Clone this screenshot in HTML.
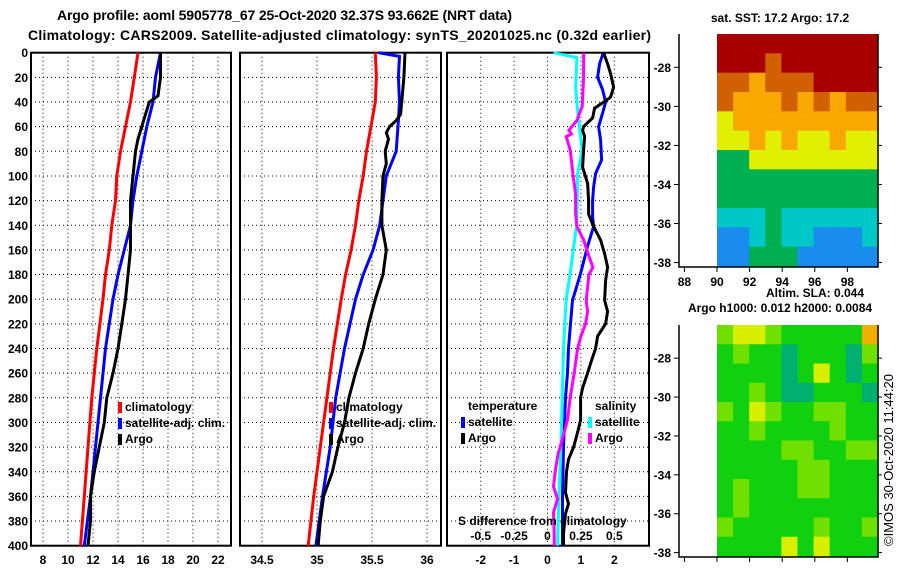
<!DOCTYPE html>
<html><head><meta charset="utf-8"><style>
html,body{margin:0;padding:0;background:#fff;}
svg{display:block;font-family:"Liberation Sans",sans-serif;font-weight:bold;}
</style></head><body>
<svg id="c" width="900" height="580" viewBox="0 0 900 580" xmlns="http://www.w3.org/2000/svg">
<text x="57" y="20" font-size="14" textLength="455">Argo profile: aoml 5905778_67 25-Oct-2020 32.37S 93.662E (NRT data)</text>
<text x="28" y="40" font-size="14" textLength="623">Climatology: CARS2009. Satellite-adjusted climatology: synTS_20201025.nc (0.32d earlier)</text>
<g id="g"></g>
</svg>
<script>
// ---------- data ----------
const depthTicks=[0,20,40,60,80,100,120,140,160,180,200,220,240,260,280,300,320,340,360,380,400];
const tTicks=[8,10,12,14,16,18,20,22];
const sTicks=[34.5,35,35.5,36];
const dTTicks=[-2,-1,0,1,2];
const dSTicks=[-0.5,-0.25,0,0.25,0.5];
// panel 1 temperature
const tClimD=[0,20,40,60,80,100,120,140,160,180,200,240,280,320,360,400];
const tClimV=[15.6,15.3,15.0,14.6,14.2,13.9,13.8,13.5,13.3,13.0,12.8,12.3,11.9,11.6,11.3,11.0];
const tSatD=[0,20,40,60,80,100,120,140,160,180,200,240,280,320,360,400];
const tSatV=[17.4,17.0,16.8,16.3,15.9,15.5,15.2,15.0,14.5,14.0,13.6,13.0,12.6,12.2,11.8,11.3];
const tArgoD=[0,20,35,40,50,60,70,80,100,120,140,160,180,200,220,240,260,280,300,320,340,360,380,400];
const tArgoV=[17.4,17.4,17.2,16.5,16.2,15.9,15.6,15.4,15.2,15.0,15.0,15.0,14.8,14.6,14.3,14.0,13.6,13.1,12.9,12.5,12.1,11.8,11.8,11.6];
// panel 2 salinity
const sClimD=[0,20,40,60,80,100,120,140,160,180,200,240,280,320,360,400];
const sClimV=[35.53,35.54,35.53,35.49,35.45,35.42,35.38,35.35,35.31,35.26,35.22,35.15,35.09,35.03,34.97,34.92];
const sSatD=[0,3,20,40,55,80,100,120,140,160,180,200,240,280,320,360,400];
const sSatV=[35.56,35.75,35.74,35.75,35.74,35.72,35.63,35.60,35.57,35.51,35.42,35.35,35.25,35.17,35.12,35.05,34.99];
const sArgoD=[0,20,40,50,55,60,65,70,80,90,100,120,140,150,160,180,200,220,240,260,280,300,320,340,360,380,400];
const sArgoV=[35.80,35.79,35.77,35.76,35.72,35.66,35.63,35.65,35.62,35.63,35.60,35.59,35.59,35.61,35.63,35.60,35.53,35.47,35.42,35.35,35.29,35.25,35.19,35.14,35.06,35.03,35.01];
// panel 3 differences from climatology
const dTSatD=[0,9,20,30,40,49,60,71,87,98,109,120,133,141,157,179,201,220,240,260,280,320,360,400];
const dTSatV=[1.67,1.56,1.50,1.65,1.74,1.65,1.53,1.59,1.62,1.44,1.38,1.35,1.35,1.38,1.20,0.99,0.75,0.69,0.63,0.60,0.54,0.48,0.45,0.45];
const dTArgoD=[0,9,17,28,36,39,45,53,60,63,68,79,93,98,106,120,131,141,152,163,174,185,201,210,220,230,240,252,260,272,280,298,308,320,330,340,357,366,374,390,400];
const dTArgoV=[1.68,1.80,1.89,1.98,1.89,1.74,1.41,1.35,1.08,1.05,1.11,1.08,1.05,1.11,1.20,1.23,1.23,1.38,1.59,1.71,1.80,1.74,1.71,1.80,1.74,1.50,1.44,1.29,1.20,1.05,0.99,0.99,0.90,0.78,0.63,0.57,0.54,0.63,0.54,0.48,0.48];
const dSSatD=[0,4,28,52,79,98,138,179,200,240,280,320,360,400];
const dSSatV=[0.045,0.22,0.21,0.23,0.26,0.225,0.22,0.17,0.14,0.12,0.11,0.10,0.085,0.075];
const dSArgoD=[0,20,44,46,55,63,66,68,79,98,115,130,141,152,165,174,180,201,210,220,230,240,260,280,298,314,325,338,352,362,373,390,400];
const dSArgoV=[0.27,0.27,0.26,0.25,0.22,0.16,0.18,0.14,0.17,0.19,0.21,0.21,0.22,0.27,0.31,0.34,0.31,0.29,0.30,0.285,0.25,0.225,0.20,0.17,0.15,0.11,0.08,0.06,0.045,0.075,0.045,0.05,0.05];
// maps
const latTicks=[-28,-30,-32,-34,-36,-38];
const lonTicks=[88,90,92,94,96,98];
const sstGrid=[
[6,6,6,6,6,6,6,6,6,6],[6,6,6,5,6,6,6,6,6,6],[5,5,4,5,5,5,6,6,6,6],[5,4,4,4,5,4,5,4,5,5],
[3,4,4,4,4,4,4,4,4,4],[3,3,4,3,4,3,3,4,3,3],[2,2,3,3,3,3,3,3,3,3],[2,2,2,2,2,2,2,2,2,2],
[2,2,2,2,2,2,2,2,2,2],[1,1,1,2,1,1,1,1,1,1],[0,0,1,2,1,1,0,0,0,1],[0,0,2,2,2,0,0,0,0,0]];
const slaGrid=[
[2,3,3,2,1,1,1,1,1,4],[1,2,1,1,0,1,1,1,0,2],[1,1,1,1,0,1,3,1,0,1],[1,1,2,1,0,0,1,1,1,0],
[2,1,3,2,1,1,2,2,1,1],[1,1,2,1,1,1,1,2,1,1],[1,1,1,1,2,2,1,1,2,2],[1,1,1,1,1,2,2,1,1,1],
[1,2,1,1,1,2,2,1,1,1],[1,2,1,1,1,1,1,1,1,1],[2,1,1,1,1,1,2,1,1,2],[1,1,1,1,3,1,3,1,1,1]];
const sstColors=['#1a8cf0','#00c8c8','#00b050','#e0f000','#f8a800','#d06000','#a80000'];
const slaColors=['#00b070','#10d010','#70e000','#d8f000','#f0b000'];

// ---------- helpers ----------
const NS='http://www.w3.org/2000/svg';
const G=document.getElementById('g');
function el(tag,attrs,parent){const e=document.createElementNS(NS,tag);for(const k in attrs)e.setAttribute(k,attrs[k]);(parent||G).appendChild(e);return e;}
const Y0=52.7,YS=1.2325;
const yD=d=>Y0+d*YS;
const xT=v=>43+(v-8)*12.5;
const xS=v=>317+(v-35)*110;
const xDT=v=>547.5+v*33.4;
const xDS=v=>547.5+v*133.6;

function panel(name,x0,x1,gridXs){
  const g=el('g',{});
  
  
  depthTicks.forEach(d=>{const l=el('line',{x1:x0,x2:x1,y1:yD(d),y2:yD(d),stroke:'#000','stroke-width':1,'stroke-dasharray':'1,3'},g);
    });
  gridXs.forEach(x=>{const l=el('line',{x1:x,x2:x,y1:Y0,y2:yD(400),stroke:'#000','stroke-width':1,'stroke-dasharray':'1,3'},g);
    });
  const r=el('rect',{x:x0,y:Y0,width:x1-x0,height:yD(400)-Y0,fill:'none',stroke:'#000','stroke-width':2},g);
  
  return g;
}
function series(g,name,ds,vs,xf,color,w){
  const pts=ds.map((d,i)=>xf(vs[i]).toFixed(1)+','+yD(d).toFixed(1)).join(' ');
  const p=el('polyline',{points:pts,fill:'none',stroke:color,'stroke-width':w||3,'stroke-linejoin':'miter'},g);
  
  
}
function text(g,name,x,y,s,opts){
  const t=el('text',Object.assign({x:x,y:y,'font-size':12},opts||{}),g);t.textContent=s;
  
  
  return t;
}
function legendEntry(g,name,x,y,color,label){
  const r=el('rect',{x:x,y:y-9,width:4,height:11,fill:color},g);
  
  text(g,name,x+7,y,label);
}

// y-axis labels
const ya=el('g',{});


depthTicks.forEach(d=>text(ya,'y-tick-label',28,yD(d)+4.5,String(d),{'text-anchor':'end'}));

// panel 1
const p1=panel('temperature-panel',31,231,tTicks.map(xT));
series(p1,'temp-climatology-line',tClimD,tClimV,xT,'#ff0000');
series(p1,'temp-satellite-adj-line',tSatD,tSatV,xT,'#0000ff');
series(p1,'temp-argo-line',tArgoD,tArgoV,xT,'#000000');
tTicks.forEach(v=>text(p1,'x-tick-label',xT(v),564,String(v),{'text-anchor':'middle'}));
legendEntry(p1,'legend-climatology',118,411,'#ff0000','climatology');
legendEntry(p1,'legend-satellite-adj',118,427,'#0000ff','satellite-adj. clim.');
legendEntry(p1,'legend-argo',118,443,'#000000','Argo');

// panel 2
const p2=panel('salinity-panel',240,441,sTicks.map(xS));
series(p2,'sal-climatology-line',sClimD,sClimV,xS,'#ff0000');
series(p2,'sal-satellite-adj-line',sSatD,sSatV,xS,'#0000ff');
series(p2,'sal-argo-line',sArgoD,sArgoV,xS,'#000000');
sTicks.forEach(v=>text(p2,'x-tick-label',xS(v),564,String(v),{'text-anchor':'middle'}));
legendEntry(p2,'legend-climatology',329,411,'#ff0000','climatology');
legendEntry(p2,'legend-satellite-adj',329,427,'#0000ff','satellite-adj. clim.');
legendEntry(p2,'legend-argo',329,443,'#000000','Argo');

// panel 3
const p3=panel('difference-panel',447,649,dTTicks.map(xDT));
series(p3,'dT-satellite-line',dTSatD,dTSatV,xDT,'#0000ff');
series(p3,'dS-satellite-line',dSSatD,dSSatV,xDS,'#00ffff');
series(p3,'dS-argo-line',dSArgoD,dSArgoV,xDS,'#ff00ff');
series(p3,'dT-argo-line',dTArgoD,dTArgoV,xDT,'#000000');
dTTicks.forEach(v=>text(p3,'x-tick-label',xDT(v),564,String(v),{'text-anchor':'middle'}));
dSTicks.forEach(v=>text(p3,'s-tick-label',xDS(v),540,String(v),{'text-anchor':'middle'}));
text(p3,'s-axis-title',458,525,'S difference from climatology');
text(p3,'legend-title-temperature',468,410,'temperature');
text(p3,'legend-title-salinity',595,410,'salinity');
legendEntry(p3,'legend-temp-satellite',461,426,'#0000ff','satellite');
legendEntry(p3,'legend-temp-argo',461,442,'#000000','Argo');
legendEntry(p3,'legend-sal-satellite',588,426,'#00ffff','satellite');
legendEntry(p3,'legend-sal-argo',588,442,'#ff00ff','Argo');

// maps
function map(name,top,bottom,grid,colors,lonLabels){
  const g=el('g',{});
  
  
  const L=679,R=878,DL=717;
  const rows=grid.length,cols=grid[0].length;
  const cw=(R-DL)/cols,ch=(bottom-1-top)/rows;
  grid.forEach((row,i)=>row.forEach((v,j)=>{
    const c=el('rect',{x:(DL+j*cw).toFixed(2),y:(top+i*ch).toFixed(2),width:(cw+0.6).toFixed(2),height:(ch+0.6).toFixed(2),fill:colors[Math.round(v)]},g);
    
    
  }));
  const f=el('path',{d:`M${L},${top} V${bottom} H${R} V${top}`,fill:'none',stroke:'#000','stroke-width':1.5},g);
  
  const lat0=top+(bottom-top)*0.143, latS=(bottom-top)*0.0838;
  latTicks.forEach((lat,k)=>{const y=lat0+k*2*latS;
    el('line',{x1:L-5,x2:L,y1:y,y2:y,stroke:'#000'},g);
    el('line',{x1:R,x2:R+4,y1:y,y2:y,stroke:'#000'},g);
    text(g,'lat-tick-label',L-8,y+4.5,String(lat),{'text-anchor':'end'});});
  lonTicks.forEach(lon=>{const x=717+(lon-90)*16.3;
    el('line',{x1:x,x2:x,y1:bottom,y2:bottom+5,stroke:'#000'},g);
    if(lonLabels) text(g,'lon-tick-label',x,bottom+19,String(lon),{'text-anchor':'middle'});});
  return g;
}
const m1=map('sst-map',34,267,sstGrid,sstColors,true);
text(m1,'sst-map-title',780,22,'sat. SST: 17.2 Argo: 17.2',{'text-anchor':'middle'});
const m2=map('sla-map',325,557,slaGrid,slaColors,false);
text(m2,'sla-map-title',815,297,'Altim. SLA: 0.044',{'text-anchor':'middle'});
text(m2,'sla-map-subtitle',780,312,'Argo h1000: 0.012 h2000: 0.0084',{'text-anchor':'middle'});
const cr=text(G,'copyright-timestamp',0,0,'©IMOS 30-Oct-2020 11:44:20',{'text-anchor':'middle','font-weight':'normal','font-size':13,transform:'translate(893,460) rotate(-90)'});
</script>
</body></html>
